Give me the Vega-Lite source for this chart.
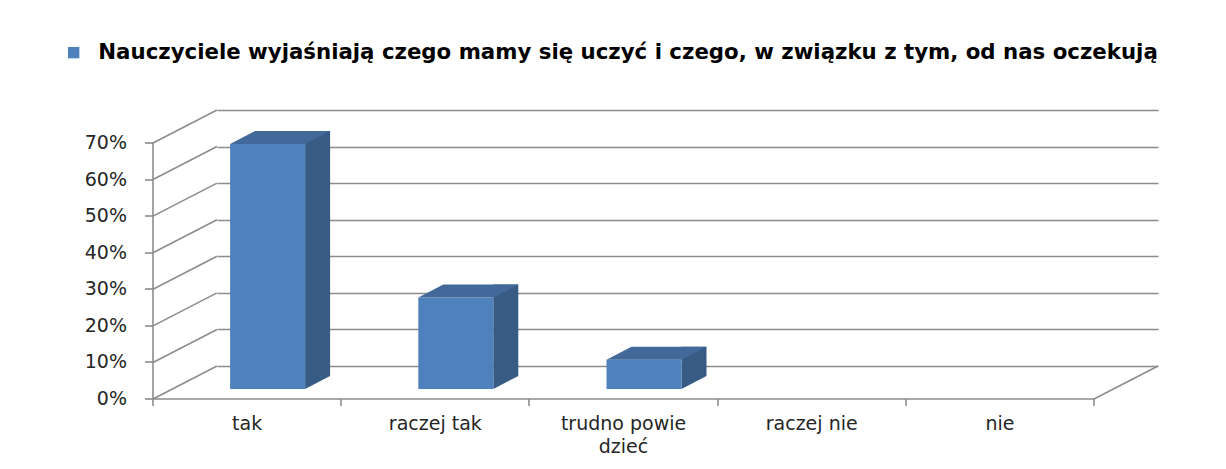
{
  "$schema": "https://vega.github.io/schema/vega-lite/v6.json",
  "autosize": "none",
  "width": 941,
  "height": 256,
  "padding": {"left": 217, "top": 110, "right": 68, "bottom": 103},
  "background": "white",
  "config": {"view": {"stroke": null}},
  "datasets": {
    "answers": [
      {"odpowiedz": "tak", "procent": 67, "seria": "Nauczyciele wyjaśniają  czego mamy się uczyć i czego, w związku z tym, od nas oczekują"},
      {"odpowiedz": "raczej tak", "procent": 25, "seria": "Nauczyciele wyjaśniają  czego mamy się uczyć i czego, w związku z tym, od nas oczekują"},
      {"odpowiedz": "trudno powiedzieć", "procent": 8, "seria": "Nauczyciele wyjaśniają  czego mamy się uczyć i czego, w związku z tym, od nas oczekują"},
      {"odpowiedz": "raczej nie", "procent": 0, "seria": "Nauczyciele wyjaśniają  czego mamy się uczyć i czego, w związku z tym, od nas oczekują"},
      {"odpowiedz": "nie", "procent": 0, "seria": "Nauczyciele wyjaśniają  czego mamy się uczyć i czego, w związku z tym, od nas oczekują"}
    ],
    "ticks": [{"t": 0}, {"t": 10}, {"t": 20}, {"t": 30}, {"t": 40}, {"t": 50}, {"t": 60}, {"t": 70}]
  },
  "resolve": {"axis": {"y": "independent", "x": "independent"}},
  "layer": [
    {
      "data": {"name": "ticks"},
      "mark": {"type": "rule", "color": "#8c8c8c", "strokeWidth": 1.6, "xOffset": -64, "yOffset": 33, "x2Offset": -94.1, "y2Offset": 0},
      "encoding": {
        "x": {"datum": "tak", "bandPosition": 0, "type": "nominal", "scale": {"domain": ["tak", "raczej tak", "trudno powiedzieć", "raczej nie", "nie"], "type": "band", "paddingInner": 0, "paddingOuter": 0}, "axis": null},
        "x2": {"datum": "tak"},
        "y": {"field": "t", "type": "quantitative", "scale": {"domain": [0, 70], "nice": false},
              "axis": {"orient": "left", "grid": true, "gridColor": "#8c8c8c", "gridWidth": 1.6, "domain": false, "ticks": false, "labels": false, "title": null, "values": [0, 10, 20, 30, 40, 50, 60, 70]}},
        "y2": {"field": "t"}
      }
    },
    {
      "data": {"values": [{"odpowiedz": "nie"}]},
      "mark": {"type": "rule", "color": "#8c8c8c", "strokeWidth": 1.6, "xOffset": -64, "yOffset": 33, "x2Offset": 94.1, "y2Offset": 0},
      "encoding": {
        "x": {"datum": "nie", "bandPosition": 1, "type": "nominal", "axis": null},
        "x2": {"datum": "nie"},
        "y": {"datum": 0, "type": "quantitative", "axis": null},
        "y2": {"datum": 0}
      }
    },
    {
      "data": {"name": "answers"},
      "transform": [{"filter": "datum.procent > 0"}],
      "mark": {"type": "bar", "width": 25, "xOffset": 6.5, "yOffset": 10, "y2Offset": 10, "color": "#375B85"},
      "encoding": {
        "x": {"field": "odpowiedz", "type": "nominal", "sort": null, "axis": null},
        "y": {"field": "procent", "type": "quantitative", "axis": null}
      }
    },
    {
      "data": {"name": "answers"},
      "transform": [{"filter": "datum.procent > 0"}],
      "mark": {"type": "point", "shape": "M-6,23L-6,10L19,10Z", "size": 4, "filled": true, "opacity": 1, "strokeWidth": 0, "color": "#375B85"},
      "encoding": {
        "x": {"field": "odpowiedz", "type": "nominal", "sort": null, "axis": null},
        "y": {"datum": 0, "type": "quantitative", "axis": null}
      }
    },
    {
      "data": {"name": "answers"},
      "transform": [{"filter": "datum.procent > 0"}],
      "mark": {"type": "bar", "width": 75, "xOffset": -43.5, "yOffset": 23, "y2Offset": 23},
      "encoding": {
        "x": {"field": "odpowiedz", "type": "nominal", "sort": null,
              "axis": {"orient": "bottom", "title": null, "offset": 97, "translate": -64, "domainColor": "#8c8c8c", "domainWidth": 1.6, "tickColor": "#8c8c8c", "tickWidth": 1.6, "tickSize": 7, "tickBand": "extent", "labelAngle": 0, "labelFont": "DejaVu Sans", "labelFontSize": 19, "labelColor": "#262626", "labelPadding": 9, "labelLineHeight": 23, "labelBaseline": "top",
                       "labelExpr": "datum.label == 'trudno powiedzieć' ? ['trudno powie', 'dzieć'] : datum.label"}},
        "y": {"field": "procent", "type": "quantitative",
              "axis": {"orient": "left", "title": null, "grid": false, "offset": 97, "translate": 33, "values": [0, 10, 20, 30, 40, 50, 60, 70], "labelExpr": "datum.value + '%'", "domainColor": "#8c8c8c", "domainWidth": 1.6, "tickColor": "#8c8c8c", "tickWidth": 1.6, "tickSize": 8, "labelFont": "DejaVu Sans", "labelFontSize": 19, "labelColor": "#262626", "labelPadding": 18}},
        "color": {"field": "seria", "type": "nominal", "scale": {"range": ["#4F81BD"]},
                  "legend": {"title": null, "orient": "none", "legendX": -154, "legendY": -68, "padding": 0, "symbolType": "square", "symbolSize": 130, "symbolStrokeWidth": 0, "labelFont": "DejaVu Sans", "labelFontSize": 21.3, "labelFontWeight": "bold", "labelColor": "#000000", "labelLimit": 2000, "labelOffset": 14}}
      }
    },
    {
      "data": {"name": "answers"},
      "transform": [{"filter": "datum.procent > 0"}],
      "mark": {"type": "point", "shape": "M-81,23L-6,23L19,10L-56,10Z", "size": 4, "filled": true, "opacity": 1, "strokeWidth": 0, "color": "#42699A"},
      "encoding": {
        "x": {"field": "odpowiedz", "type": "nominal", "sort": null, "axis": null},
        "y": {"field": "procent", "type": "quantitative", "axis": null}
      }
    }
  ]
}
